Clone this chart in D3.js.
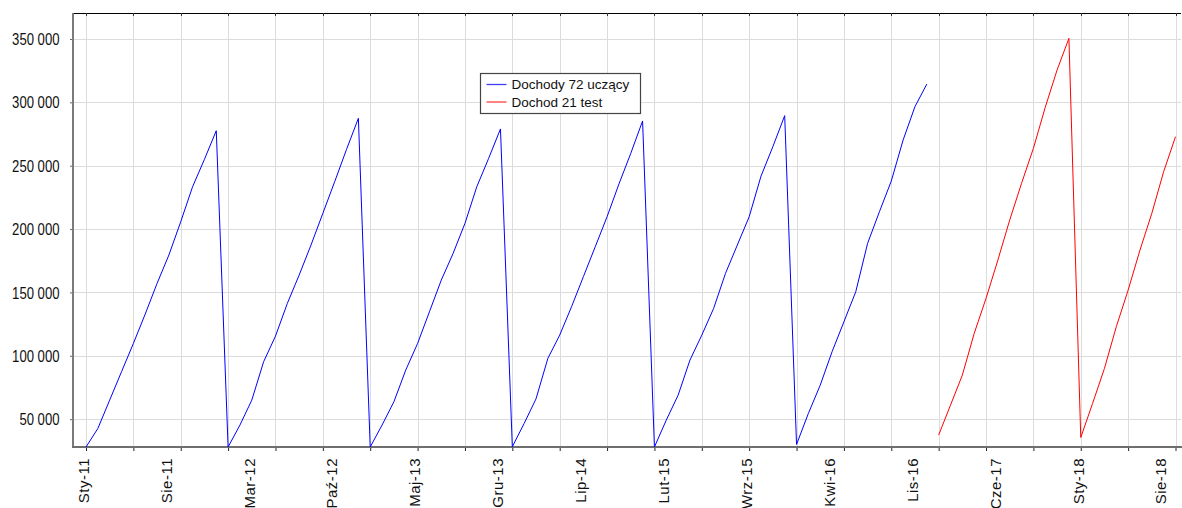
<!DOCTYPE html>
<html><head><meta charset="utf-8">
<script src="https://cdn.jsdelivr.net/npm/d3@7"></script>
<style>html,body{margin:0;padding:0;background:#fff;}svg{display:block;}</style>
</head><body>
<svg id="c" width="1182" height="508"></svg>
<script>
// ---- data ----
const seriesNames = ["Dochody 72 uczący", "Dochod 21 test"];
const blueValues = [
  28000, 42600, 65000, 87400, 109700, 132900, 157100, 179500, 205800, 233400, 255000, 277600,
  28000, 45300, 65000, 95300, 115500, 141300, 163700, 187400, 212400, 237400, 262900, 287400,
  28000, 45300, 63700, 88700, 109700, 134700, 159700, 180800, 204500, 233400, 255800, 279000,
  28200, 46600, 66000, 97900, 116300, 138700, 162400, 186000, 209700, 235500, 259700, 285300,
  28000, 49200, 68900, 96600, 116300, 137400, 165000, 187400, 209700, 241800, 265000, 289500,
  30000, 54500, 76800, 103200, 126800, 150500, 188700, 213700, 237900, 270300, 296600, 314400
];
const redValues = [
  37400, 61000, 84700, 117600, 145300, 175500, 207100, 236100, 263700, 296000, 325500, 350500,
  35500, 62400, 90000, 122900, 151800, 183400, 212400, 245300, 272900
];
const xTickLabels = ["Sty-11","Sie-11","Mar-12","Paź-12","Maj-13","Gru-13","Lip-14","Lut-15","Wrz-15","Kwi-16","Lis-16","Cze-17","Sty-18","Sie-18"];
const xLabelStep = 7;
const xGridStep = 4;
const yTicks = [50000, 100000, 150000, 200000, 250000, 300000, 350000];
const yDomain = [28000, 370500];

// ---- layout ----
const svg = d3.select("#c");
const L = 73, T = 13, B = 447, R = 1181;
const nTotal = blueValues.length + redValues.length;
const x = d3.scaleLinear().domain([0, nTotal - 1]).range([86, 1175.5]);
const y = d3.scaleLinear().domain(yDomain).range([B, T]);

const gridIdx = d3.range(0, nTotal, xGridStep);
const labelIdx = xTickLabels.map((_, i) => i * xLabelStep);

// grid
const grid = svg.append("g");
grid.selectAll("line.v").data(gridIdx).join("line")
  .attr("x1", d => Math.round(x(d)) + 0.5).attr("x2", d => Math.round(x(d)) + 0.5)
  .attr("y1", T).attr("y2", B)
  .attr("stroke", "#dcdcdc").attr("stroke-width", 1);
grid.selectAll("line.h").data(yTicks).join("line")
  .attr("x1", L).attr("x2", R)
  .attr("y1", d => Math.round(y(d)) + 0.5).attr("y2", d => Math.round(y(d)) + 0.5)
  .attr("stroke", "#dcdcdc").attr("stroke-width", 1);

// frame
svg.append("line").attr("x1", L).attr("x2", R).attr("y1", T + 0.5).attr("y2", T + 0.5)
  .attr("stroke", "#000").attr("stroke-width", 1.2);

// top ticks
svg.append("g").selectAll("line").data(gridIdx).join("line")
  .attr("x1", d => Math.round(x(d)) + 0.5).attr("x2", d => Math.round(x(d)) + 0.5)
  .attr("y1", T).attr("y2", T + 3).attr("stroke", "#333");

// y axis
const fmt = d3.formatLocale({decimal: ",", thousands: " ", grouping: [3], currency: ["", ""]}).format(",d");
const yAxis = svg.append("g").attr("transform", `translate(${L},0)`)
  .call(d3.axisLeft(y).tickValues(yTicks).tickFormat(fmt).tickSize(3).tickPadding(0));
yAxis.select(".domain").remove();
yAxis.selectAll(".tick line").attr("stroke", "#666");
yAxis.selectAll(".tick text")
  .attr("font-family", "'Liberation Sans', Arial, sans-serif")
  .attr("font-size", 16).attr("fill", "#111")
  .attr("x", -13.5 / 0.82).attr("dy", "0.35em")
  .attr("transform", "scale(0.82,1)");
svg.append("line").attr("x1", L).attr("x2", L).attr("y1", T).attr("y2", B + 1)
  .attr("stroke", "#7a7a7a").attr("stroke-width", 2);

// x axis ticks
const xAxis = svg.append("g").attr("transform", `translate(0,${B})`)
  .call(d3.axisBottom(x).tickValues(gridIdx).tickFormat("").tickSize(4));
xAxis.select(".domain").remove();
xAxis.selectAll(".tick line").attr("stroke", "#222");
svg.append("line").attr("x1", L - 1).attr("x2", 1182).attr("y1", B).attr("y2", B)
  .attr("stroke", "#6e6e6e").attr("stroke-width", 2);

// x labels
const xLab = svg.append("g").attr("transform", `translate(0,${B})`)
  .call(d3.axisBottom(x).tickValues(labelIdx).tickFormat((d, i) => xTickLabels[i]).tickSize(0));
xLab.select(".domain").remove();
xLab.selectAll(".tick text")
  .attr("font-family", "'Liberation Sans', Arial, sans-serif")
  .attr("font-size", 15).attr("fill", "#111")
  .attr("letter-spacing", "0.5px")
  .attr("text-anchor", "end")
  .attr("transform", "rotate(-90)")
  .attr("x", -11).attr("y", -3).attr("dy", "0.35em");

// lines
const line = d3.line().x(d => x(d.i)).y(d => y(d.v));
svg.append("path")
  .datum(blueValues.map((v, i) => ({i, v})))
  .attr("d", line).attr("fill", "none").attr("stroke", "#0000ff").attr("stroke-width", 1);
svg.append("path")
  .datum(redValues.map((v, i) => ({i: i + blueValues.length, v})))
  .attr("d", line).attr("fill", "none").attr("stroke", "#ff0000").attr("stroke-width", 1);

// legend
const lg = svg.append("g");
lg.append("rect").attr("x", 480.5).attr("y", 73.5).attr("width", 160).attr("height", 40)
  .attr("fill", "#fff").attr("stroke", "#444").attr("stroke-width", 1.2);
const colors = ["#0000ff", "#ff0000"];
seriesNames.forEach((name, k) => {
  const yy = 84.5 + k * 17.5;
  lg.append("line").attr("x1", 486.5).attr("x2", 506.5).attr("y1", yy).attr("y2", yy)
    .attr("stroke", colors[k]).attr("stroke-width", 1.3).attr("opacity", 0.75);
  lg.append("text").attr("x", 511.5).attr("y", yy).attr("dy", "0.35em")
    .attr("font-family", "'Liberation Sans', Arial, sans-serif")
    .attr("font-size", 13.5).attr("fill", "#111").text(name);
});
</script>
</body></html>
